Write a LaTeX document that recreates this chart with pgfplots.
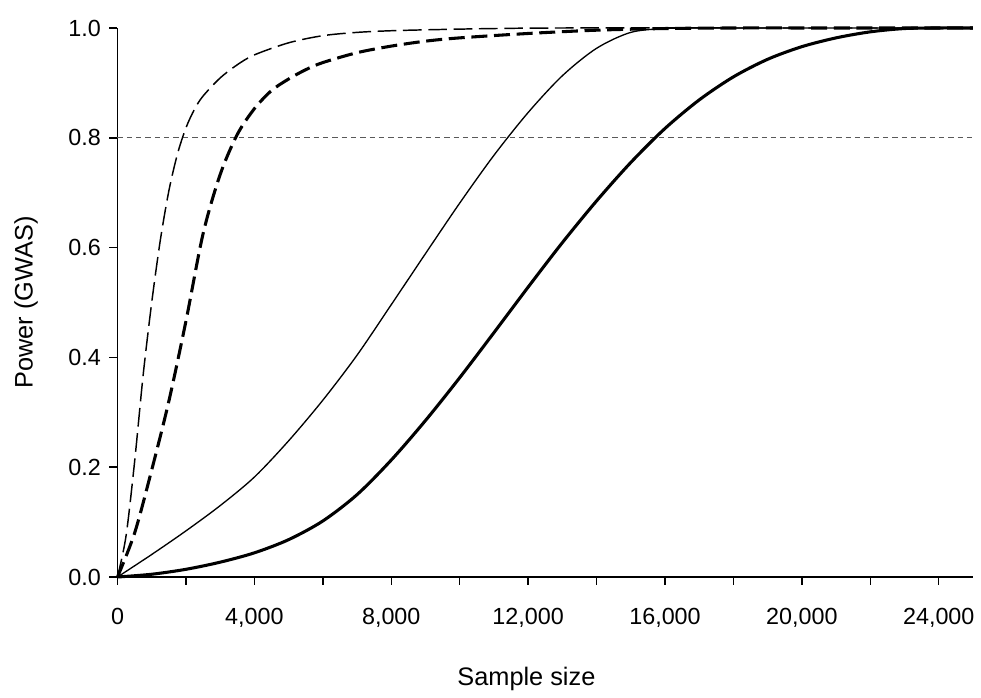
\documentclass[border=0pt]{standalone}
\usepackage{pgfplots}
\pgfplotsset{compat=1.18}
\usepackage{fontspec}
\setmainfont{Liberation Sans}
\begin{document}
\begin{tikzpicture}
\begin{axis}[
  width=641.6pt, height=411.75pt,
  scale only axis,
  xmin=0, xmax=25000, ymin=0, ymax=1,
  axis x line*=bottom, axis y line*=left,
  x axis line style={-}, y axis line style={-},
  axis line style={line width=1.1pt, black},
  tick align=outside,
  xtick={0,4000,8000,12000,16000,20000,24000},
  minor xtick={2000,6000,10000,14000,18000,22000},
  ytick={0,0.2,0.4,0.6,0.8,1.0},
  xtick pos=bottom, ytick pos=left,
  major tick length=6pt, minor tick length=6pt,
  every tick/.style={black, line width=1.1pt},
  minor tick style={black, line width=1.1pt},
  scaled ticks=false,
  /pgf/number format/assume math mode=true,
  tick label style={font=\fontsize{17.5}{21}\selectfont},
  xticklabel style={yshift=-14pt, /pgf/number format/1000 sep={,}},
  yticklabel style={xshift=-3pt, /pgf/number format/fixed, /pgf/number format/fixed zerofill, /pgf/number format/precision=1},
  xlabel={Sample size},
  ylabel={Power (GWAS)},
  label style={font=\fontsize{19}{23}\selectfont},
  xlabel style={at={(axis description cs:0.478,-0.186)}, anchor=center},
  ylabel style={at={(axis description cs:-0.107,0.5)}, anchor=center},
  clip=false,
]
% reference line at 0.8
\addplot[gray!70!black, line width=0.7pt, dash pattern=on 4pt off 3pt] coordinates {(0,0.8) (25000,0.8)};
% thin dashed
\addplot[black, line width=1.1pt, dash pattern=on 14pt off 5pt, smooth, tension=0.5] coordinates {
(0,0) (250,0.075) (500,0.21) (750,0.368) (1000,0.50) (1250,0.613) (1500,0.703) (1750,0.770)
(2000,0.818) (2250,0.852) (2500,0.876) (3000,0.909) (3500,0.933) (4000,0.951) (5000,0.973)
(6000,0.986) (7000,0.992) (8000,0.995) (9250,0.997) (11000,0.999) (13000,1.0) (19000,1.0) (25000,1.0)};
% thick dashed
\addplot[black, line width=2.3pt, dash pattern=on 12pt off 5pt, smooth, tension=0.5] coordinates {
(0,0) (500,0.08) (1000,0.195) (1500,0.32) (2000,0.466) (2500,0.625) (3000,0.733) (3500,0.806)
(4000,0.853) (4500,0.886) (5000,0.907) (5500,0.924) (6000,0.937) (7000,0.955) (8000,0.967)
(9000,0.976) (10000,0.982) (12000,0.990) (14000,0.996) (16000,0.999) (18000,1.0) (21000,1.0) (25000,1.0)};
% thin solid
\addplot[black, line width=1pt, smooth, tension=0.5] coordinates {
(0,0) (1000,0.041) (2000,0.084) (3000,0.13) (4000,0.182) (5000,0.248) (6000,0.322) (7000,0.404)
(8000,0.496) (9000,0.589) (10000,0.681) (11000,0.768) (12000,0.846) (13000,0.913) (14000,0.963)
(15000,0.992) (16000,0.999) (17000,1.0) (21000,1.0) (25000,1.0)};
% thick solid
\addplot[black, line width=2.3pt, smooth, tension=0.5] coordinates {
(0,0) (1000,0.005) (2000,0.014) (3000,0.027) (4000,0.044) (5000,0.068) (6000,0.102) (7000,0.150)
(8000,0.213) (9000,0.285) (10000,0.363) (11000,0.445) (12000,0.528) (13000,0.609) (14000,0.685)
(15000,0.755) (16000,0.817) (17000,0.869) (18000,0.911) (19000,0.943) (20000,0.966) (21000,0.982)
(22000,0.993) (23000,0.999) (24000,1.0) (25000,1.0)};
\coordinate (O) at (axis cs:0,0);
\end{axis}
\pgfresetboundingbox
\path ([shift={(-88.125pt,-90.75pt)}]O) rectangle ([shift={(647.625pt,432.75pt)}]O);
\end{tikzpicture}
\end{document}
